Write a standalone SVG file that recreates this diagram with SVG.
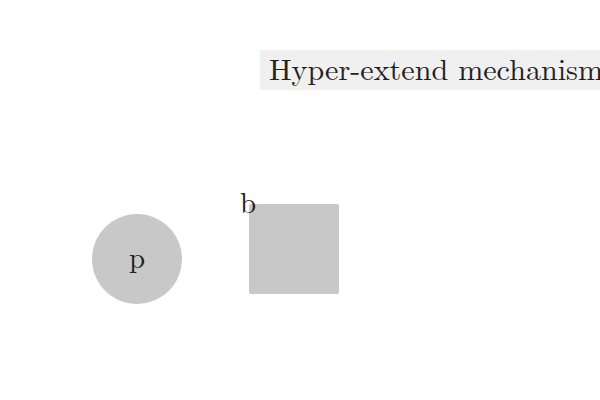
<svg xmlns="http://www.w3.org/2000/svg" width="600" height="400" viewBox="0 0 600 400">
<style>
.shape{fill:#c8c8c8;}
.lbl{font-family:"Latin Modern Roman","CMU Serif","DejaVu Serif","Liberation Serif",serif;fill:#222;font-size:29px;}
</style>
<rect width="600" height="400" fill="#ffffff"/>
<g id="title">
<rect x="260" y="50" width="340" height="40" fill="#f0f0f0"/>
<text class="lbl" x="269" y="80" textLength="334" lengthAdjust="spacingAndGlyphs">Hyper-extend mechanism</text>
</g>
<g id="connectors"></g>
<g id="node-p">
<circle class="shape" cx="137" cy="259" r="45"/>
<text class="lbl" x="137" y="268" text-anchor="middle">p</text>
</g>
<g id="node-b">
<rect class="shape" x="249" y="204" width="90" height="90" rx="2"/>
<text class="lbl" x="248" y="213" text-anchor="middle">b</text>
</g>
</svg>
